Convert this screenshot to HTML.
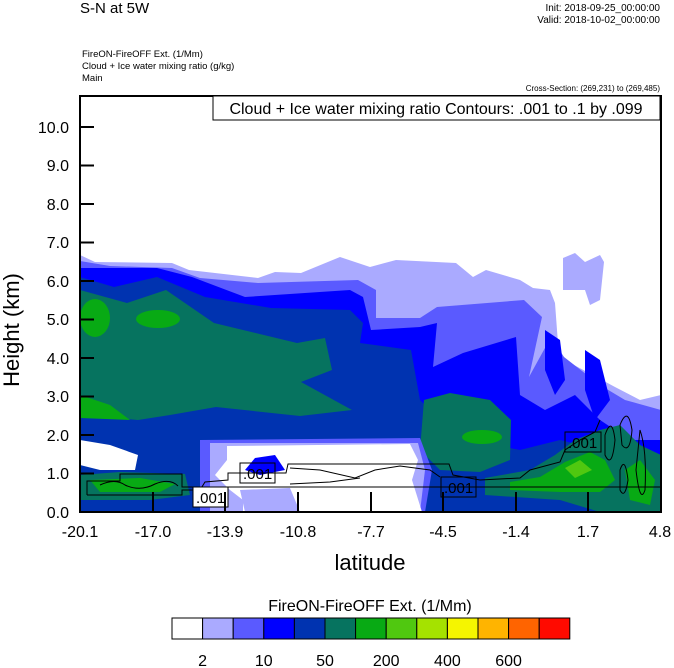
<!DOCTYPE html>
<html><head><meta charset="utf-8"><style>
body{margin:0;background:#fff;width:674px;height:668px;overflow:hidden}
svg{display:block}
text{font-family:"Liberation Sans",sans-serif;fill:#000}
</style></head><body>
<svg width="674" height="668" viewBox="0 0 674 668" xmlns="http://www.w3.org/2000/svg">
<defs><clipPath id="c"><rect x="80" y="96" width="581" height="416"/></clipPath></defs>
<text x="80" y="13" font-size="15">S-N at 5W</text>
<text x="660" y="11" font-size="10" text-anchor="end">Init: 2018-09-25_00:00:00</text>
<text x="660" y="23" font-size="10" text-anchor="end">Valid: 2018-10-02_00:00:00</text>
<text x="82" y="57" font-size="9.5">FireON-FireOFF Ext.   (1/Mm)</text>
<text x="82" y="69" font-size="9.5">Cloud + Ice water mixing ratio   (g/kg)</text>
<text x="82" y="81" font-size="9.5">Main</text>
<text x="660" y="91" font-size="8" text-anchor="end">Cross-Section: (269,231) to (269,485)</text>

<g clip-path="url(#c)">
<rect x="80" y="96" width="581" height="416" fill="#fff"/>
<path fill="#aaaaff" d="M80,255 L95,262 L172,263 L189,270 L258,278 L275,272 L301,273 L340,257 L370,267 L396,260 L456,263 L473,277 L486,270 L520,280 L533,288 L550,290 L555,303 L559,357 L602,380 L615,387 L640,400 L661,395 L661,512 L80,512Z"/>
<path fill="#aaaaff" d="M563,258 L575,253 L585,262 L600,255 L604,262 L600,300 L590,305 L585,290 L563,290Z"/>
<path fill="#5a5aff" d="M80,261 L110,266 L172,268 L200,278 L258,283 L358,280 L376,290 L376,318 L420,318 L437,307 L524,300 L542,317 L529,377 L551,337 L564,357 L600,385 L625,400 L661,410 L661,512 L80,512Z"/>
<path fill="#0000ff" d="M80,268 L157,268 L192,277 L245,297 L350,290 L363,297 L371,330 L420,327 L437,323 L433,367 L463,353 L516,337 L520,395 L545,410 L575,395 L600,420 L630,440 L661,440 L661,512 L80,512Z"/>
<path fill="#0033b0" d="M80,277 L114,287 L157,277 L205,297 L271,308 L350,310 L363,323 L360,343 L411,350 L420,400 L440,420 L470,440 L520,450 L560,440 L600,450 L661,455 L661,512 L80,512Z"/>
<path fill="#06735f" d="M80,290 L127,303 L166,290 L214,323 L297,343 L325,338 L332,370 L301,382 L352,410 L300,416 L216,407 L170,415 L138,420 L80,415Z"/>
<path fill="#06735f" d="M424,400 L450,393 L490,400 L511,420 L510,460 L480,472 L440,470 L420,450Z"/>
<ellipse cx="95" cy="318" rx="15" ry="19" fill="#08aa14"/>
<ellipse cx="158" cy="319" rx="22" ry="9" fill="#08aa14"/>
<path fill="#08aa14" d="M80,395 L110,405 L130,420 L80,418Z"/>
<ellipse cx="482" cy="437" rx="20" ry="7" fill="#08aa14"/>
<path fill="#5a5aff" d="M200,440 L420,438 L432,470 L425,512 L200,512Z"/>
<path fill="#aaaaff" d="M210,443 L418,443 L425,470 L420,512 L210,512Z"/>
<path fill="#fff" d="M227,446 L410,444 L418,460 L412,480 L422,512 L243,512 L243,500 L230,490 L215,475 L227,460Z"/>
<path fill="#fff" d="M80,440 L110,445 L138,455 L135,470 L100,470 L80,465Z"/>
<path fill="#0000ff" d="M255,458 L275,455 L285,470 L260,475 L245,470Z"/>
<path fill="#aaaaff" d="M240,490 L290,488 L300,512 L245,512Z"/>
<path fill="#0000ff" d="M545,330 L560,340 L565,380 L555,395 L545,370Z"/>
<path fill="#0000ff" d="M585,350 L600,360 L610,400 L595,420 L585,390Z"/>
<path fill="#06735f" d="M80,475 L120,472 L185,474 L190,495 L150,500 L80,500Z"/>
<path fill="#08aa14" d="M90,480 L140,478 L175,484 L160,492 L100,492Z"/>
<path fill="#06735f" d="M485,478 L530,470 L555,455 L575,440 L600,430 L620,425 L640,445 L661,455 L661,512 L600,512 L560,500 L485,495Z"/>
<path fill="#08aa14" d="M510,482 L540,477 L565,462 L590,452 L605,460 L615,480 L600,492 L560,492 L510,490Z"/>
<path fill="#08aa14" d="M625,470 L640,460 L655,480 L650,505 L630,500Z"/>
<path fill="#50c810" d="M565,468 L580,460 L592,470 L575,478Z"/>
<g fill="none" stroke="#000" stroke-width="1">
<path d="M87,495 L87,481 L120,481 L120,474 L182,474 L182,487 L660,487"/>
<path d="M87,495 L182,495 L182,490 L200,490 L205,482 L228,480 L228,473 L286,473 L288,464 L449,464 L453,475 L480,480 L520,478 L530,470 L560,462 L565,450 L580,440 L595,432 L600,420"/>
<path d="M290,468 L320,470 L355,478 L375,470 L400,466 L430,470 L440,477"/>
<path d="M290,484 L330,482 L360,478"/>
<path d="M100,485 Q115,478 125,485 Q140,492 155,484 Q170,478 178,486"/>
<path d="M605,435 Q612,415 615,440 Q612,470 605,455Z"/>
<path d="M620,425 Q628,405 632,430 Q630,455 622,445Z"/>
<path d="M640,430 Q647,450 645,490 Q640,505 636,470Z"/>
<path d="M620,470 Q625,455 628,480 Q625,500 620,490Z"/>
</g>
<g font-size="15">
<rect x="240" y="463" width="35" height="20" fill="none" stroke="#000"/><text x="243" y="479">.001</text>
<rect x="193" y="487" width="35" height="20" fill="#fff" stroke="#000"/><text x="196" y="503">.001</text>
<rect x="441" y="477" width="35" height="20" fill="none" stroke="#000"/><text x="444" y="493">.001</text>
<rect x="565" y="432" width="36" height="20" fill="none" stroke="#000"/><text x="568" y="448">.001</text>
</g>
</g>

<rect x="80" y="96" width="581" height="416" fill="none" stroke="#000" stroke-width="2"/>
<rect x="213" y="96" width="447" height="24" fill="#fff" stroke="#000" stroke-width="1"/>
<text x="436" y="114" font-size="16" text-anchor="middle">Cloud + Ice water mixing ratio Contours: .001 to .1 by .099</text>

<g stroke="#000" stroke-width="2">
<line x1="80" y1="473.5" x2="94" y2="473.5"/><line x1="80" y1="435" x2="94" y2="435"/><line x1="80" y1="396.5" x2="94" y2="396.5"/><line x1="80" y1="358" x2="94" y2="358"/><line x1="80" y1="319.5" x2="94" y2="319.5"/><line x1="80" y1="281" x2="94" y2="281"/><line x1="80" y1="242.5" x2="94" y2="242.5"/><line x1="80" y1="204" x2="94" y2="204"/><line x1="80" y1="165.5" x2="94" y2="165.5"/><line x1="80" y1="127" x2="94" y2="127"/>
<line x1="153" y1="512" x2="153" y2="492"/><line x1="225" y1="512" x2="225" y2="492"/><line x1="298" y1="512" x2="298" y2="492"/><line x1="371" y1="512" x2="371" y2="492"/><line x1="443" y1="512" x2="443" y2="492"/><line x1="516" y1="512" x2="516" y2="492"/><line x1="588" y1="512" x2="588" y2="492"/>
</g>
<g font-size="16" text-anchor="end">
<text x="69" y="518">0.0</text><text x="69" y="479">1.0</text><text x="69" y="441">2.0</text><text x="69" y="402">3.0</text><text x="69" y="364">4.0</text><text x="69" y="325">5.0</text><text x="69" y="287">6.0</text><text x="69" y="248">7.0</text><text x="69" y="210">8.0</text><text x="69" y="171">9.0</text><text x="69" y="133">10.0</text>
</g>
<g font-size="16" text-anchor="middle">
<text x="80" y="537">-20.1</text><text x="153" y="537">-17.0</text><text x="225" y="537">-13.9</text><text x="298" y="537">-10.8</text><text x="371" y="537">-7.7</text><text x="443" y="537">-4.5</text><text x="516" y="537">-1.4</text><text x="588" y="537">1.7</text><text x="660" y="537">4.8</text>
</g>
<text x="370" y="570" font-size="22" text-anchor="middle">latitude</text>
<text transform="translate(19,330) rotate(-90)" font-size="22" text-anchor="middle">Height (km)</text>

<text x="370" y="611" font-size="16" text-anchor="middle">FireON-FireOFF Ext.  (1/Mm)</text>
<g stroke="#000" stroke-width="1">
<rect x="172" y="618" width="30.6" height="21" fill="#ffffff"/>
<rect x="202.6" y="618" width="30.6" height="21" fill="#aaaaff"/>
<rect x="233.2" y="618" width="30.6" height="21" fill="#5a5aff"/>
<rect x="263.8" y="618" width="30.6" height="21" fill="#0000ff"/>
<rect x="294.4" y="618" width="30.6" height="21" fill="#0033b0"/>
<rect x="325" y="618" width="30.6" height="21" fill="#06735f"/>
<rect x="355.6" y="618" width="30.6" height="21" fill="#08aa14"/>
<rect x="386.2" y="618" width="30.6" height="21" fill="#50c810"/>
<rect x="416.8" y="618" width="30.6" height="21" fill="#a5e200"/>
<rect x="447.4" y="618" width="30.6" height="21" fill="#f5f500"/>
<rect x="478" y="618" width="30.6" height="21" fill="#ffb400"/>
<rect x="508.6" y="618" width="30.6" height="21" fill="#ff6400"/>
<rect x="539.2" y="618" width="30.6" height="21" fill="#ff0a00"/>
</g>
<g font-size="16" text-anchor="middle">
<text x="202.6" y="666">2</text><text x="263.8" y="666">10</text><text x="325" y="666">50</text><text x="386.2" y="666">200</text><text x="447.4" y="666">400</text><text x="508.6" y="666">600</text>
</g>
</svg>
</body></html>
